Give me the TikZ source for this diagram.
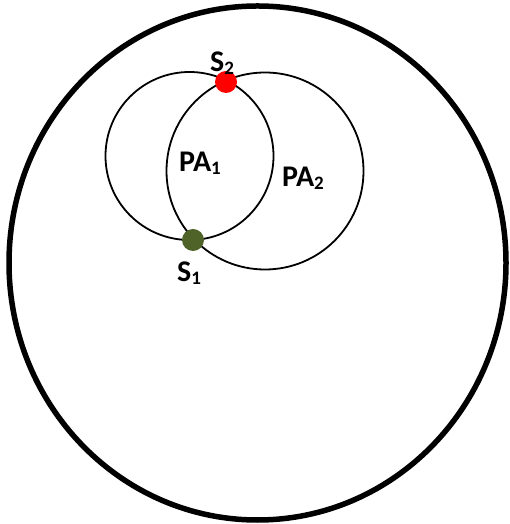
\documentclass[tikz,border=0pt]{standalone}
\usepackage{fontspec}
\setmainfont{Carlito}
\usepackage{xcolor}
\usetikzlibrary{positioning}
\definecolor{sitegreen}{HTML}{4F6228}
\newcommand{\sitesub}[1]{\raisebox{-3pt}{\fontsize{19}{20}\selectfont #1}}

\begin{document}
\begin{tikzpicture}[x=1pt, y=1pt,
    region/.style={draw, line width=5.5pt},
    area/.style={draw, line width=1.8pt},
    site/.style={circle, inner sep=0pt, minimum width=21pt, minimum height=22pt},
    lbl/.style={font=\fontsize{30}{31}\selectfont\bfseries, inner sep=0pt},
]
\useasboundingbox (0,0) rectangle (510,524);

% Outer region
\draw[region] (257.5,261) ellipse [x radius=248.5, y radius=257];

% Protected areas
\draw[area] (189.5,368) circle [radius=84];
\draw[area] (265,353) circle [radius=98.5];

% Sites
\node[site, fill=red] (s2) at (226,442) {};
\node[site, fill=sitegreen] (s1) at (193,284) {};

% Labels
\node[lbl] (s2lbl) at (222,461) {S\sitesub{2}};
\node[lbl] (s1lbl) at (189,251) {S\sitesub{1}};
\node[lbl] (pa1) at (200,361) {PA\sitesub{1}};
\node[lbl] (pa2) at (303,346) {PA\sitesub{2}};

\end{tikzpicture}
\end{document}
